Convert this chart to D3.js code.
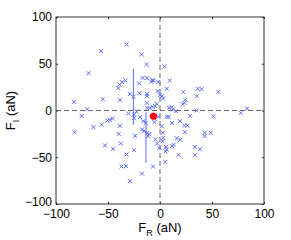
<!DOCTYPE html>
<html>
<head>
<meta charset="utf-8">
<script src="https://cdn.jsdelivr.net/npm/d3@7"></script>
<style>
  body { margin: 0; background: #fff; }
  text { font-family: "Liberation Sans", Arial, sans-serif; }
</style>
</head>
<body>
<div id="chart"></div>
<script>
// scatter of force samples (aN)
var fR = [-32.1,-56.7,-17.6,-12.8,4.5,-68.6,-33.3,-36.5,-38.8,-16.7,-12.5,-7.4,-8.3,-6.1,-1.9,9.3,-19.9,-40.1,
          -28.8,-25.6,-19.9,-12.5,-12.5,-2.2,6.4,0,1.9,2.9,22.4,56.1,35.3,36.2,40.1,24.4,23.4,-82.7,-55.1,-38.5,
          21.8,-12.8,-12.2,-9.9,-7.1,-4.5,-3.2,11.2,12.5,15.4,8.7,-69.9,35.3,83.7,77.6,-75.3,-30.4,-22.4,-48.1,
          -50.6,-45.5,-64.1,-56.1,-38.5,-25,-25,-19.2,-16,-13.5,-5.4,-5.4,-4.8,-1.6,6.4,8.3,11.5,19.2,23.4,26.3,
          28.8,51.3,-17.3,-15.4,-12.5,-11.5,-10.3,1.6,2.6,-39.7,-37.8,-24,3.2,16,19.6,24,42.9,42.9,48.7,-82.1,
          -4.5,-2.6,2.6,-0.6,5.8,6.4,5.4,11.5,13.1,17.9,33.7,38.5,33.7,-45.2,-52.9,-32.1,-25,5.1,-36.9,-32.7,
          -6.7,-17.3,-28.8];
var fI = [70.6,63.5,59.9,49.2,47.1,39.9,32.1,30.3,27.8,34.9,34.6,32.4,30.7,32.1,30.3,32.1,28.9,23.9,
          17.8,14.6,18.5,17.8,15.3,20.7,23.2,16.4,15.3,12.8,20,20,15.3,23.2,22.8,11.4,8.2,9.3,12.1,11.4,
          6.8,8.2,2.5,2.5,3.9,4.6,7.1,3.6,1.1,-0.7,2.9,1.4,0,2.1,-2.5,-5.7,-3.2,-1.1,-10,
          -10.7,-8.6,-17.8,-15.3,-16.4,-8.2,-4.3,-7.1,-11.4,-13.2,-8.6,-12.5,-5.3,-6.8,-6.8,-6.8,-13.5,-11.4,-16,-16,
          -5.7,-6.1,-20.3,-22.1,-23.9,-27.5,-25.3,-16.8,-23.9,-25,-35.3,-27.1,-29.2,-29.6,-31.4,-23.2,-23.9,-27.5,-23.9,-23.2,
          -31,-35.3,-32.8,-39.9,-38.9,-41.7,-43.9,-38.1,-36.7,-47.4,-39.2,-41.4,-47.8,-41,-37.4,-47.1,-42.4,-54.9,-59.9,-59.5,
          -59.9,-67.4,-75.6];

// vertical spread bars: x, y low, y high
var barX = [-25.6, -13.5];
var barLo = [-15.3, -56];
var barHi = [44.6, -1.8];

// mean point
var meanR = [-6.4];
var meanI = [-6.1];

var xTicks = [-100, -50, 0, 50, 100];
var yTicks = [-100, -50, 0, 50, 100];

var W = 291, H = 240;
var margin = {left: 56, right: 27, top: 17, bottom: 36};
var pw = W - margin.left - margin.right, ph = H - margin.top - margin.bottom;

var svg = d3.select("#chart").append("svg")
    .attr("width", W).attr("height", H);

var g = svg.append("g").attr("transform", "translate(" + margin.left + "," + margin.top + ")");

var x = d3.scaleLinear().domain([-100, 100]).range([0, pw]);
var y = d3.scaleLinear().domain([-100, 100]).range([ph, 0]);

var blue = "#5b6dfa";

// dashed zero lines
g.append("line").attr("x1", x(0)).attr("x2", x(0)).attr("y1", 0).attr("y2", ph)
    .attr("stroke", "#666").attr("stroke-width", 1).attr("stroke-dasharray", "5,3");
g.append("line").attr("x1", 0).attr("x2", pw).attr("y1", y(0)).attr("y2", y(0))
    .attr("stroke", "#666").attr("stroke-width", 1).attr("stroke-dasharray", "5,3");

// points
var pts = fR.map(function(d, i) { return {r: d, i: fI[i]}; });
var s = 2;
g.selectAll("path.pt").data(pts).enter().append("path")
    .attr("class", "pt")
    .attr("d", function(d) {
        var cx = x(d.r), cy = y(d.i);
        return "M" + (cx - s) + "," + (cy - s) + "L" + (cx + s) + "," + (cy + s) +
               "M" + (cx - s) + "," + (cy + s) + "L" + (cx + s) + "," + (cy - s);
    })
    .attr("stroke", blue).attr("stroke-width", 1).attr("fill", "none");

// bars
g.selectAll("line.bar").data(barX).enter().append("line")
    .attr("class", "bar")
    .attr("x1", function(d) { return x(d); }).attr("x2", function(d) { return x(d); })
    .attr("y1", function(d, i) { return y(barLo[i]); })
    .attr("y2", function(d, i) { return y(barHi[i]); })
    .attr("stroke", blue).attr("stroke-width", 1);

// mean
g.selectAll("circle.mean").data(meanR).enter().append("circle")
    .attr("class", "mean")
    .attr("cx", function(d) { return x(d); })
    .attr("cy", function(d, i) { return y(meanI[i]); })
    .attr("r", 3.5).attr("fill", "#f00");

// axes
var minus = function(d) { return d3.format("")(d).replace("-", "\u2212"); };
var xb = g.append("g").attr("transform", "translate(0," + ph + ")")
    .call(d3.axisBottom(x).tickValues(xTicks).tickSize(-2).tickPadding(5).tickFormat(minus));
var xt = g.append("g").call(d3.axisTop(x).tickValues(xTicks).tickSize(-2).tickFormat(""));
var yl = g.append("g")
    .call(d3.axisLeft(y).tickValues(yTicks).tickSize(-2).tickPadding(4).tickFormat(minus));
var yr = g.append("g").attr("transform", "translate(" + pw + ",0)")
    .call(d3.axisRight(y).tickValues(yTicks).tickSize(-2).tickFormat(""));

[xb, xt, yl, yr].forEach(function(a) {
    a.select(".domain").remove();
    a.selectAll("line").attr("stroke", "#333");
    a.selectAll("text").attr("fill", "#000").style("font-size", "12px")
        .style("font-family", "Liberation Sans, Arial, sans-serif");
});
// bottom y label sits a touch higher, like the original
yl.selectAll(".tick text").filter(function(d) { return d === -100; }).attr("dy", "0.1em");

g.append("rect").attr("width", pw).attr("height", ph)
    .attr("fill", "none").attr("stroke", "#333").attr("stroke-width", 1);

// axis labels
var xlab = svg.append("text")
    .attr("x", margin.left + x(0)).attr("y", 232)
    .attr("text-anchor", "middle").style("font-size", "13px").attr("fill", "#000");
xlab.append("tspan").text("F");
xlab.append("tspan").attr("dy", 4).style("font-size", "9px").text("R");
xlab.append("tspan").attr("dy", -4).text(" (aN)");

var ylab = svg.append("text")
    .attr("transform", "translate(15," + (margin.top + y(0)) + ") rotate(-90)")
    .attr("text-anchor", "middle").style("font-size", "13px").attr("fill", "#000");
ylab.append("tspan").text("F");
ylab.append("tspan").attr("dy", 4).style("font-size", "9px").text("I");
ylab.append("tspan").attr("dy", -4).text(" (aN)");
</script>
</body>
</html>
